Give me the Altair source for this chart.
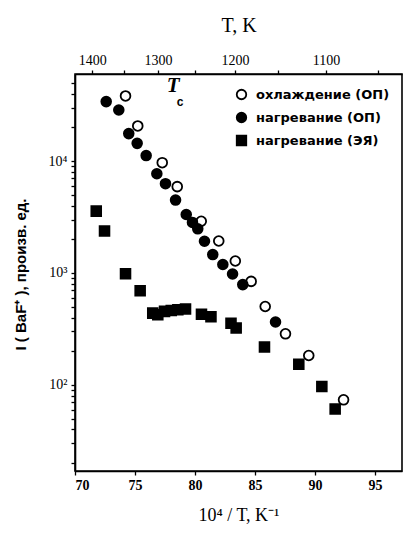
import altair as alt
import pandas as pd

# Data (x = 10^4/T axis values as printed, y = I(BaF+))
cool_x = [74.21, 75.23, 77.27, 78.52, 80.52, 81.98, 83.36, 84.68, 85.85, 87.54, 89.48, 92.38]
cool_y = [38200, 20600, 9680, 5910, 2900, 1930, 1280, 841, 502, 286, 183, 73.5]
heat_x = [72.6, 73.65, 74.48, 75.18, 75.93, 76.82, 77.54, 78.38, 79.27, 79.79, 80.23,
          80.79, 81.48, 82.32, 83.13, 83.98, 86.71]
heat_y = [34000, 28600, 17600, 14400, 11200, 7700, 6280, 4480, 3330, 2830, 2480,
          1920, 1460, 1190, 980, 787, 365]
cell_x = [71.77, 72.46, 74.21, 75.43, 76.48, 76.9, 77.46, 78.02, 78.57, 79.21, 80.54,
          81.33, 83.0, 83.43, 85.79, 88.65, 90.57, 91.68]
cell_y = [3570, 2370, 986, 695, 438, 424, 454, 463, 470, 477, 428, 406, 356, 322,
          218, 153, 96.6, 61]
series = ["охлаждение (ОП)", "нагревание (ОП)", "нагревание (ЭЯ)"]

x_ticks = [70, 72.5, 75, 77.5, 80, 82.5, 85, 87.5, 90, 92.5, 95]
t_ticks = [1400, 1350, 1300, 1250, 1200, 1150, 1100, 1050]
y_ticks = [20, 30, 40, 50, 60, 70, 80, 90,
           100, 200, 300, 400, 500, 600, 700, 800, 900,
           1000, 2000, 3000, 4000, 5000, 6000, 7000, 8000, 9000,
           10000, 20000, 30000, 40000, 50000]

rows = []
for xs, ys, s in [(cool_x, cool_y, series[0]), (heat_x, heat_y, series[1]), (cell_x, cell_y, series[2])]:
    for a, b in zip(xs, ys):
        rows.append({"x": a, "y": b, "s": s})
df = pd.DataFrame(rows)

xscale = alt.Scale(domain=[70, 97.25], nice=False, zero=False)
yscale = alt.Scale(type="log", domain=[17, 60000], nice=False)

leg = alt.Legend(title=None, orient="none", legendX=160, legendY=14,
                 labelFont="DejaVu Sans", labelFontWeight="bold",
                 labelFontSize=13, symbolSize=90, symbolStrokeWidth=1.8,
                 rowPadding=6, labelOffset=8)

points = alt.Chart(df).mark_point(filled=True, opacity=1, stroke="black", strokeWidth=1.8).encode(
    x=alt.X("x:Q", scale=xscale,
            axis=alt.Axis(orient="bottom", values=x_ticks, title="10⁴ / T, K⁻¹",
                          labelExpr="datum.value % 5 === 0 ? format(datum.value, 'd') : ''",
                          labelOverlap=False, labelFont="Liberation Serif", labelFontWeight="bold",
                          labelFontSize=14, labelPadding=3,
                          titleFont="Liberation Serif", titleFontSize=18, titleFontWeight="normal",
                          titlePadding=14)),
    y=alt.Y("y:Q", scale=yscale,
            axis=alt.Axis(values=y_ticks, title="I ( BaF⁺ ), произв. ед.",
                          labelExpr="datum.value === 100 ? '10²' : datum.value === 1000 ? '10³' : datum.value === 10000 ? '10⁴' : ''",
                          labelOverlap=False, labelFont="Liberation Serif", labelFontSize=14,
                          labelPadding=4,
                          titleFont="Liberation Sans", titleFontSize=15, titleFontWeight="bold",
                          titleX=-47, titleY=200)),
    shape=alt.Shape("s:N", scale=alt.Scale(domain=series, range=["circle", "circle", "square"]),
                    legend=leg),
    fill=alt.Fill("s:N", scale=alt.Scale(domain=series, range=["white", "black", "black"]),
                  legend=leg),
    size=alt.value(95),
)

ann_df = pd.DataFrame({"x": [78.17], "y": [47000.0], "t": ["T"]})
ann_t = alt.Chart(ann_df).mark_text(font="Liberation Serif", fontStyle="italic", fontWeight="bold",
                                    fontSize=21, color="black").encode(
    x=alt.X("x:Q", scale=xscale), y=alt.Y("y:Q", scale=yscale), text="t:N")
ann_c_df = pd.DataFrame({"x": [78.75], "y": [33500.0], "t": ["c"]})
ann_c = alt.Chart(ann_c_df).mark_text(font="Liberation Sans", fontWeight="bold",
                                      fontSize=12, color="black").encode(
    x=alt.X("x:Q", scale=xscale), y=alt.Y("y:Q", scale=yscale), text="t:N")

base = alt.layer(points, ann_t, ann_c)

t_vals = [100000.0 / t for t in t_ticks]
t_df = pd.DataFrame({"x": t_vals})
top = alt.Chart(t_df).mark_point(opacity=0).encode(
    x=alt.X("x:Q", scale=xscale,
            axis=alt.Axis(orient="top", values=t_vals, title="T, K",
                          labelExpr="round(100000 / datum.value) % 100 === 0 ? format(round(100000 / datum.value), 'd') : ''",
                          labelOverlap=False, labelFont="Liberation Serif", labelFontSize=14,
                          labelPadding=3,
                          titleFont="Liberation Serif", titleFontSize=20, titleFontWeight="normal",
                          titlePadding=18)),
    y=alt.value(0),
)

chart = alt.layer(base, top).resolve_axis(x="independent").properties(
    width=327, height=397,
    autosize=alt.AutoSizeParams(type="none"),
    padding={"left": 75, "top": 74, "right": 2, "bottom": 62},
    background="white",
).configure_view(stroke="black", strokeWidth=1.6).configure_axis(
    grid=False, domainColor="black", domainWidth=1.6, tickColor="black", tickSize=4,
    tickWidth=1.3, labelColor="black", titleColor="black"
)

chart.save("out.html", embed_options={"renderer": "svg", "actions": False})
